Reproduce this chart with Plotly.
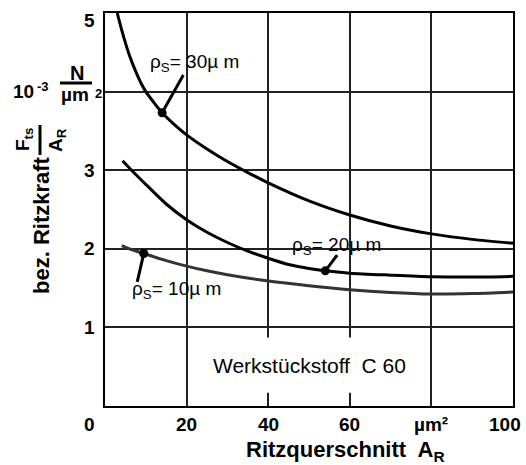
import plotly.graph_objects as go

# ---- data ----
x30 = [3, 4, 5, 6, 7.5, 9, 10, 12, 14, 17, 20, 25, 30, 35, 40, 50, 60, 70, 80, 90, 100]
y30 = [5.0, 4.8, 4.62, 4.46, 4.26, 4.09, 4.0, 3.86, 3.73, 3.58, 3.45, 3.27, 3.11, 2.97, 2.84, 2.61, 2.43, 2.29, 2.19, 2.12, 2.07]

x20 = [4.3, 6.5, 10, 15, 20, 25, 30, 35, 40, 45, 50, 54, 60, 70, 80, 90, 100]
y20 = [3.12, 3.0, 2.82, 2.57, 2.37, 2.21, 2.08, 1.97, 1.88, 1.8, 1.75, 1.72, 1.69, 1.665, 1.645, 1.64, 1.65]

x10 = [4.1, 6, 9.5, 15, 20, 25, 30, 40, 50, 60, 70, 80, 90, 100]
y10 = [2.04, 2.0, 1.94, 1.85, 1.78, 1.72, 1.67, 1.59, 1.53, 1.48, 1.445, 1.425, 1.43, 1.45]

marker_x = [14, 54, 9.5]
marker_y = [3.73, 1.72, 1.94]

x_tick_vals = [0, 20, 40, 60, 80, 100]
x_tick_text = ["0", "20", "40", "60", "µm²", "100"]
y_tick_vals = [1, 2, 3, 5]
y_tick_text = ["1", "2", "3", "5"]

FONT = "Liberation Sans, Arial, sans-serif"

W, H = 526, 465
L, R, T, B = 105, 13, 13, 59
PW, PH = W - L - R, H - T - B


def px(xp, yp):
    """figure pixel -> paper coordinates (relative to plot area)"""
    return (xp - L) / PW, (H - B - yp) / PH


fig = go.Figure()
for xs, ys, col in [(x30, y30, "#000000"), (x20, y20, "#000000"), (x10, y10, "#333333")]:
    fig.add_trace(go.Scatter(x=xs, y=ys, mode="lines",
                             line=dict(color=col, width=3, shape="spline", smoothing=0.8),
                             hoverinfo="skip", showlegend=False))
fig.add_trace(go.Scatter(x=marker_x, y=marker_y, mode="markers",
                         marker=dict(color="black", size=9), showlegend=False, hoverinfo="skip"))

shapes = []
# leader lines
for (x0, y0, x1, y1) in [(14, 3.73, 19.2, 4.21), (54, 1.72, 56.9, 1.92), (9.5, 1.94, 7.9, 1.58)]:
    shapes.append(dict(type="line", xref="x", yref="y", x0=x0, y0=y0, x1=x1, y1=y1,
                       line=dict(color="black", width=3)))
# white box behind material label (interrupts gridlines at 40 and 60)
shapes.append(dict(type="rect", xref="x", yref="y", x0=27, x1=73, y0=0.17, y1=0.87,
                   fillcolor="white", line=dict(width=0), layer="above"))


def pline(xa, ya, xb, yb, w=3):
    a = px(xa, ya)
    b = px(xb, yb)
    shapes.append(dict(type="line", xref="paper", yref="paper", x0=a[0], y0=a[1], x1=b[0], y1=b[1],
                       line=dict(color="black", width=w)))


def paper_ann(xp, yp, text, size, bold=False, angle=0, xanchor="center", yanchor="middle"):
    x, y = px(xp, yp)
    t = f"<b>{text}</b>" if bold else text
    return dict(x=x, y=y, xref="paper", yref="paper", text=t, showarrow=False, textangle=angle,
                font=dict(family=FONT, size=size, color="black"), xanchor=xanchor, yanchor=yanchor)


ann = []
tick_font = dict(family=FONT, size=19, color="black")
for v, t in zip(x_tick_vals, x_tick_text):
    xs = 0
    if v == 0:
        xs = -16
    if v == 100:
        xs = -8
    ann.append(dict(x=v, y=0, xref="x", yref="y", text=f"<b>{t}</b>", showarrow=False, xshift=xs,
                    yshift=-18, font=tick_font, xanchor="center", yanchor="middle"))
for v, t in zip(y_tick_vals, y_tick_text):
    ys = -7 if v == 5 else 0
    ann.append(dict(x=0, y=v, xref="x", yref="y", text=f"<b>{t}</b>", showarrow=False, xshift=-16,
                    yshift=ys, font=tick_font, xanchor="center", yanchor="middle"))

# unit at y=4
ann.append(paper_ann(23, 92, "10", 19, bold=True))
ann.append(paper_ann(43, 86, "-3", 13, bold=True))
ann.append(paper_ann(77, 73, "N", 20, bold=True))
ann.append(paper_ann(75, 94, "µm", 19, bold=True))
ann.append(paper_ann(98, 93, "2", 13, bold=True))
pline(60, 83, 92, 83)

# y title
ann.append(paper_ann(42, 225, "bez. Ritzkraft", 22, bold=True, angle=-90))
ann.append(paper_ann(24, 140, "F<sub>ts</sub>", 19, bold=True, angle=-90))
ann.append(paper_ann(57, 140, "A<sub>R</sub>", 19, bold=True, angle=-90))
pline(40, 125, 40, 155)

# x title
ann.append(paper_ann(345, 451, "Ritzquerschnitt  A<sub>R</sub>", 22, bold=True))

# curve labels
lab_font = dict(family=FONT, size=19, color="black")
ann.append(dict(x=10.5, y=4.36, xref="x", yref="y", text="ρ<sub>S</sub>= 30µ m", showarrow=False,
                xanchor="left", yanchor="middle", font=lab_font))
ann.append(dict(x=45.3, y=2.04, xref="x", yref="y", text="ρ<sub>S</sub>= 20µ m", showarrow=False,
                xanchor="left", yanchor="middle", font=lab_font))
ann.append(dict(x=6.1, y=1.48, xref="x", yref="y", text="ρ<sub>S</sub>= 10µ m", showarrow=False,
                xanchor="left", yanchor="middle", font=lab_font))
# material label
ann.append(dict(x=50, y=0.51, xref="x", yref="y", text="Werkstückstoff  C 60", showarrow=False,
                xanchor="center", yanchor="middle", font=dict(family=FONT, size=21, color="black")))

fig.update_layout(
    width=W, height=H,
    margin=dict(l=L, r=R, t=T, b=B),
    paper_bgcolor="white", plot_bgcolor="white",
    shapes=shapes, annotations=ann,
    xaxis=dict(range=[0, 100], tickvals=[20, 40, 60, 80], showticklabels=False, showgrid=True,
               gridcolor="#222222", gridwidth=1.5, zeroline=False, showline=True, linecolor="black",
               linewidth=2, mirror=True, ticks=""),
    yaxis=dict(range=[0, 5], tickvals=[1, 2, 3, 4], showticklabels=False, showgrid=True,
               gridcolor="#222222", gridwidth=1.5, zeroline=False, showline=True, linecolor="black",
               linewidth=2, mirror=True, ticks=""),
)

fig.write_html("out.html")
